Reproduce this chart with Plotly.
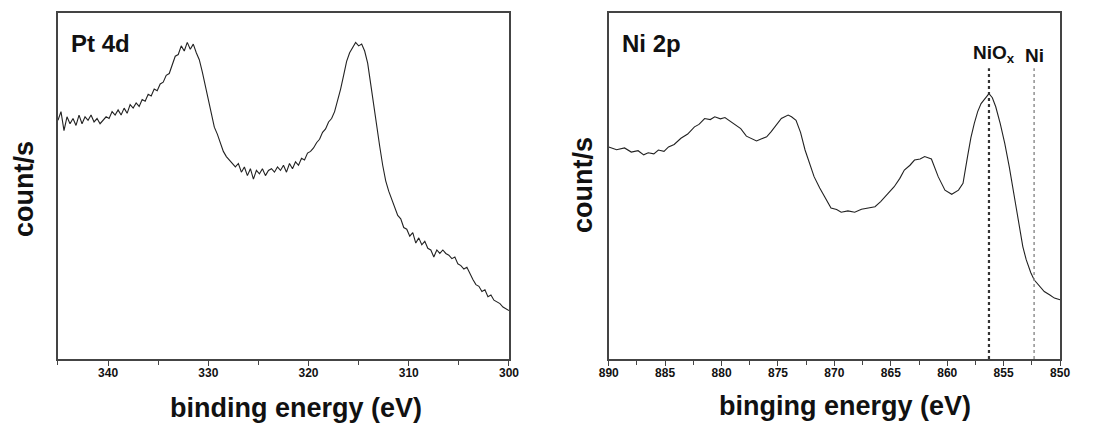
import plotly.graph_objects as go

# ---------------- data (arbitrary count units) -------------
pt_energy = [345.0, 344.7, 344.4, 344.1, 343.8, 343.5, 343.2, 342.9, 342.6, 342.3,
             342.0, 341.7, 341.4, 341.1, 340.8, 340.5, 340.2, 339.9, 339.6, 339.3,
             339.0, 338.7, 338.4, 338.1, 337.8, 337.5, 337.2, 336.9, 336.6, 336.3,
             336.0, 335.7, 335.4, 335.1, 334.8, 334.5, 334.2, 333.9, 333.6, 333.3,
             333.0, 332.7, 332.4, 332.1, 331.8, 331.5, 331.2, 330.9, 330.6, 330.3,
             330.0, 329.7, 329.4, 329.1, 328.8, 328.5, 328.2, 327.9, 327.6, 327.3,
             327.0, 326.7, 326.4, 326.1, 325.8, 325.5, 325.2, 324.9, 324.6, 324.3,
             324.0, 323.7, 323.4, 323.1, 322.8, 322.5, 322.2, 321.9, 321.6, 321.3,
             321.0, 320.7, 320.4, 320.1, 319.8, 319.5, 319.2, 318.9, 318.6, 318.3,
             318.0, 317.7, 317.4, 317.1, 316.8, 316.5, 316.2, 315.9, 315.6, 315.3,
             315.0, 314.7, 314.4, 314.1, 313.8, 313.5, 313.2, 312.9, 312.6, 312.3,
             312.0, 311.7, 311.4, 311.1, 310.8, 310.5, 310.2, 309.9, 309.6, 309.3,
             309.0, 308.7, 308.4, 308.1, 307.8, 307.5, 307.2, 306.9, 306.6, 306.3,
             306.0, 305.7, 305.4, 305.1, 304.8, 304.5, 304.2, 303.9, 303.6, 303.3,
             303.0, 302.7, 302.4, 302.1, 301.8, 301.5, 301.2, 300.9, 300.6, 300.3,
             300.0]
pt_counts = [69.0, 71.5, 66.0, 70.0, 68.0, 69.5, 67.5, 70.5, 68.0, 70.0,
             69.0, 70.5, 68.5, 69.5, 68.0, 69.0, 70.0, 69.5, 71.5, 70.5,
             72.0, 70.5, 72.5, 71.0, 73.5, 72.5, 74.0, 73.0, 75.0, 74.5,
             76.5, 76.0, 78.0, 77.5, 79.5, 80.0, 82.0, 82.5, 85.0, 87.5,
             88.0, 90.5, 89.0, 91.5, 89.5, 91.0, 88.5, 86.5, 83.0, 79.0,
             75.0, 72.0, 67.0, 65.0, 62.5, 60.0, 58.5, 57.5, 56.5, 55.5,
             56.5, 54.0, 55.5, 53.0, 55.0, 52.0, 54.5, 53.5, 55.0, 53.0,
             54.5, 55.0, 54.0, 55.5, 54.5, 56.0, 54.0, 56.5, 55.0, 57.0,
             56.0, 58.0, 57.5, 59.5, 60.0, 61.0, 62.5, 63.5, 65.5, 66.5,
             68.5, 69.5, 71.5, 74.5, 78.0, 82.0, 86.0, 88.5, 90.0, 91.5,
             90.5, 91.0, 89.0, 85.5, 79.5, 73.0, 67.0, 61.5, 56.0, 51.5,
             48.5, 46.0, 43.5, 41.5, 40.5, 38.0, 37.5, 35.5, 36.5, 33.5,
             35.0, 33.0, 34.0, 32.0, 31.5, 29.5, 31.5, 30.5, 31.5, 30.5,
             30.0, 29.0, 29.5, 27.5, 27.0, 26.0, 26.5, 24.5, 23.0, 21.5,
             21.0, 19.5, 20.0, 18.0, 18.5, 17.0, 16.5, 16.0, 15.0, 14.5,
             14.0]

ni_energy = [890.0, 889.3, 888.6, 888.0, 887.4, 886.9, 886.5, 886.0, 885.6, 885.1,
             884.7, 884.2, 883.6, 883.0, 882.4, 882.0, 881.5, 881.0, 880.6, 880.1,
             879.7, 879.2, 878.8, 878.3, 877.8, 877.4, 876.9, 876.5, 876.0, 875.6,
             875.1, 874.7, 874.1, 873.8, 873.4, 873.0, 872.6, 872.2, 871.8, 871.3,
             870.9, 870.3, 869.8, 869.4, 868.8, 868.2, 867.6, 867.0, 866.4, 865.9,
             865.3, 864.7, 864.2, 863.8, 863.3, 862.9, 862.4, 862.0, 861.4, 860.8,
             860.2, 859.6, 859.0, 858.6, 858.2, 857.9, 857.6, 857.3, 857.0, 856.6,
             856.3, 856.0, 855.7, 855.3, 854.9, 854.5, 854.2, 853.9, 853.6, 853.3,
             853.0, 852.6, 852.3, 851.8, 851.4, 850.9, 850.5, 850.0]
ni_counts = [61.3, 60.5, 61.0, 59.8, 60.2, 59.0, 59.6, 59.3, 60.4, 60.0,
             61.3, 62.0, 63.8, 65.0, 67.1, 67.8, 69.5, 69.2, 70.0, 69.4,
             69.8, 68.6, 67.6, 66.6, 64.4, 63.8, 63.0, 63.6, 64.2, 65.7,
             68.0, 69.5, 70.5, 70.0, 69.0, 65.5, 60.4, 56.5, 52.7, 49.4,
             46.9, 43.6, 43.2, 42.4, 42.8, 42.4, 43.3, 43.6, 44.0, 45.5,
             47.5, 49.8, 52.2, 54.6, 56.0, 57.5, 57.8, 58.5, 57.8, 52.7,
             48.8, 47.6, 48.8, 50.8, 58.5, 64.0, 68.1, 71.5, 73.8, 75.6,
             76.7, 75.5, 72.9, 68.0, 62.3, 55.5, 49.8, 43.5, 37.3, 32.5,
             28.7, 25.0, 22.9, 21.0, 19.5, 18.5, 17.6, 17.1]

ref_line_energy = [856.3, 852.3]
ref_line_labels = ["NiO<sub>x</sub>", "Ni"]
ref_line_colors = ["#333333", "#888888"]
ref_line_widths = [2.2, 1.4]

panel_titles = ["Pt 4d", "Ni 2p"]
x_titles = ["binding energy (eV)", "binging energy (eV)"]
y_title = "count/s"

pt_ticks = [340, 330, 320, 310, 300]
ni_ticks = [890, 885, 880, 875, 870, 865, 860, 855, 850]

# ---------------- figure -------------------------------------------------------------
FONT = "Liberation Sans, Arial, sans-serif"
fig = go.Figure()
fig.add_trace(go.Scatter(x=pt_energy, y=pt_counts, mode="lines",
                         line=dict(color="#222222", width=1.1), xaxis="x", yaxis="y",
                         showlegend=False, hoverinfo="skip"))
fig.add_trace(go.Scatter(x=ni_energy, y=ni_counts, mode="lines",
                         line=dict(color="#222222", width=1.1), xaxis="x2", yaxis="y2",
                         showlegend=False, hoverinfo="skip"))

axis_common = dict(showline=True, linecolor="#444444", linewidth=1.5, mirror=True,
                   showgrid=False, zeroline=False)
xtickfont = dict(family=FONT, size=12, color="#111111", weight="bold")

fig.update_layout(
    width=1096, height=423,
    margin=dict(l=0, r=0, t=0, b=0, autoexpand=False),
    paper_bgcolor="white", plot_bgcolor="white",
    xaxis=dict(domain=[0.0529, 0.4644], range=[345, 300], tickvals=pt_ticks,
               ticks="outside", ticklen=5, tickwidth=1.3, tickcolor="#444444",
               ticklabelstandoff=-3,
               minor=dict(dtick=5, tick0=300, ticks="outside", ticklen=4, tickcolor="#444444"),
               tickfont=xtickfont, anchor="y", **axis_common),
    yaxis=dict(domain=[0.1513, 0.9693], range=[0, 100], showticklabels=False,
               ticks="", anchor="x", **axis_common),
    xaxis2=dict(domain=[0.5554, 0.9672], range=[890, 850], tickvals=ni_ticks,
                ticks="outside", ticklen=5, tickwidth=1.3, tickcolor="#444444",
                ticklabelstandoff=-3,
                minor=dict(dtick=2.5, tick0=850, ticks="outside", ticklen=4, tickcolor="#444444"),
                tickfont=xtickfont, anchor="y2", **axis_common),
    yaxis2=dict(domain=[0.1513, 0.9693], range=[0, 100], showticklabels=False,
                ticks="", anchor="x2", **axis_common),
)

# reference lines for Ni 2p
for e, lab, col, w in zip(ref_line_energy, ref_line_labels, ref_line_colors, ref_line_widths):
    fig.add_shape(type="line", xref="x2", yref="y2", x0=e, x1=e, y0=0, y1=84,
                  line=dict(color=col, width=w, dash="dot"))
    fig.add_annotation(x=e, y=84.0, xref="x2", yref="y2", text=lab, showarrow=False,
                       xanchor="center", yanchor="bottom", xshift=5 if "sub" in lab else 0,
                       font=dict(family=FONT, size=19, color="#111111", weight="bold"))

big = dict(family=FONT, size=27, color="#111111", weight="bold")
title_font = dict(family=FONT, size=24, color="#111111", weight="bold")
# panel titles
fig.add_annotation(x=69 / 1096, y=1 - 43 / 423, xref="paper", yref="paper", text=panel_titles[0],
                   showarrow=False, xanchor="left", yanchor="middle", font=title_font)
fig.add_annotation(x=620 / 1096, y=1 - 43 / 423, xref="paper", yref="paper", text=panel_titles[1],
                   showarrow=False, xanchor="left", yanchor="middle", font=title_font)
# x titles
fig.add_annotation(x=296 / 1096, y=1 - 408 / 423, xref="paper", yref="paper", text=x_titles[0],
                   showarrow=False, xanchor="center", yanchor="middle", font=big)
fig.add_annotation(x=845 / 1096, y=1 - 406 / 423, xref="paper", yref="paper", text=x_titles[1],
                   showarrow=False, xanchor="center", yanchor="middle", font=big)
# y titles
fig.add_annotation(x=24 / 1096, y=1 - 189 / 423, xref="paper", yref="paper", text=y_title,
                   showarrow=False, textangle=-90, xanchor="center", yanchor="middle", font=big)
fig.add_annotation(x=583 / 1096, y=1 - 185 / 423, xref="paper", yref="paper", text=y_title,
                   showarrow=False, textangle=-90, xanchor="center", yanchor="middle", font=big)

fig.write_html("out.html", config={"displayModeBar": False},
               post_script="document.body.style.margin='0';document.body.style.overflow='hidden';")
